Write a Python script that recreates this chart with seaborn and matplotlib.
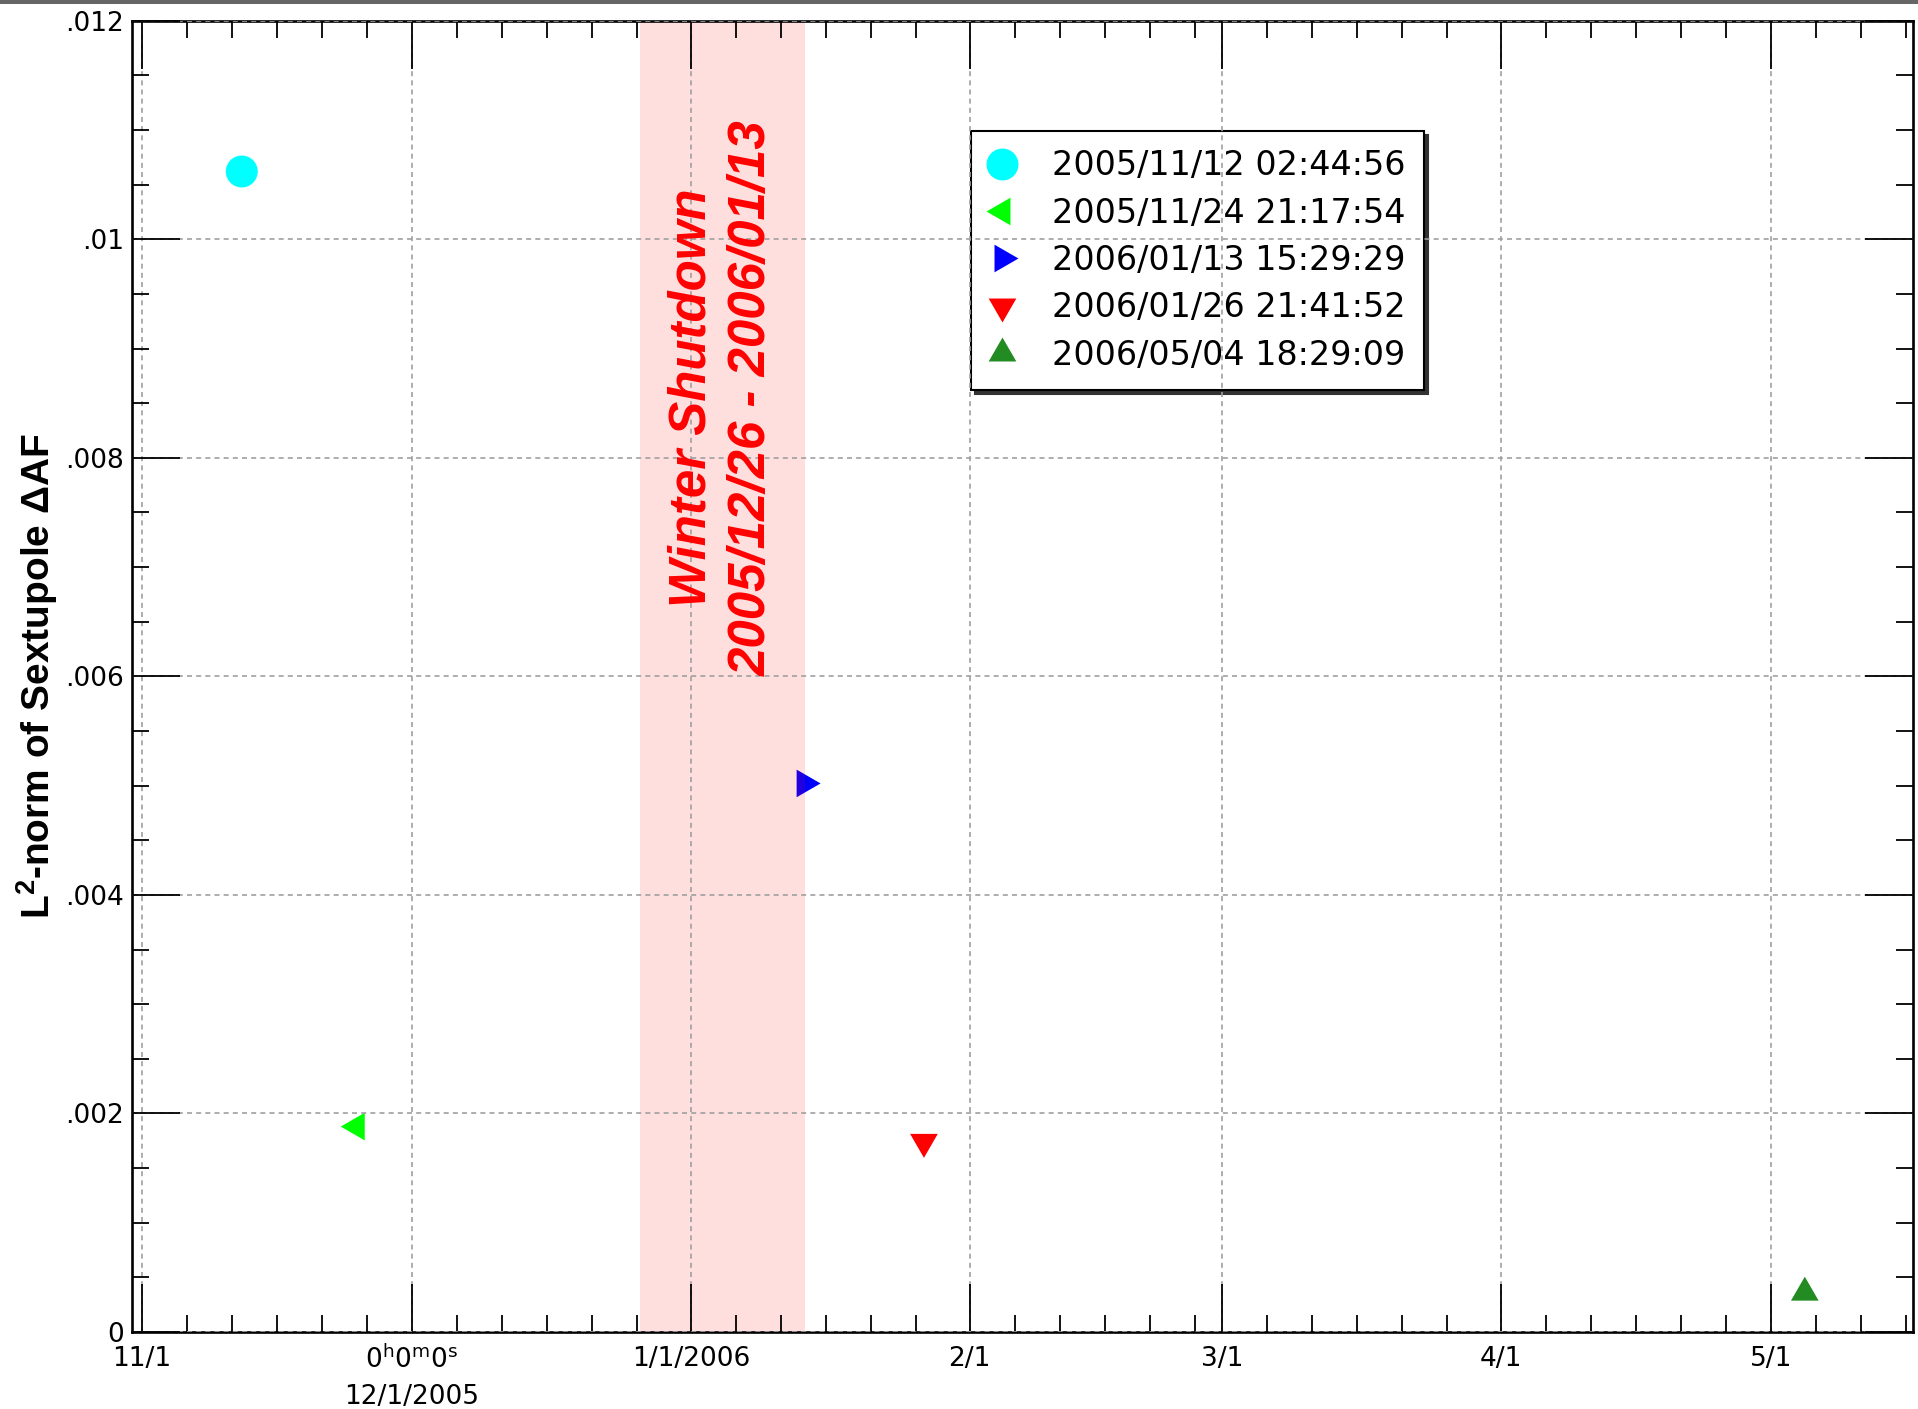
import numpy as np
import pandas as pd
import matplotlib
matplotlib.use("Agg")
import matplotlib.pyplot as plt
import matplotlib.dates as mdates
from matplotlib.lines import Line2D
from matplotlib.patches import Rectangle
from matplotlib.path import Path
from matplotlib.ticker import FixedLocator, MultipleLocator, FixedFormatter
import seaborn as sns

# ---------------- data ----------------
run_labels = ["2005/11/12 02:44:56", "2005/11/24 21:17:54", "2006/01/13 15:29:29",
              "2006/01/26 21:41:52", "2006/05/04 18:29:09"]
run_values = [0.01062, 0.00188, 0.00502, 0.00174, 0.00036]
run_colors = ["#00ffff", "#00ff00", "#0000ff", "#ff0000", "#228b22"]
run_markers = ["circle", "left", "right", "down", "up"]

x_tick_dates = ["2005-11-01", "2005-12-01", "2006-01-01", "2006-02-01",
                "2006-03-01", "2006-04-01", "2006-05-01"]
x_tick_labels = ["11/1", "0$^\\mathrm{h}$0$^\\mathrm{m}$0$^\\mathrm{s}$\n12/1/2005", "1/1/2006",
                 "2/1", "3/1", "4/1", "5/1"]
y_tick_values = [0, 0.002, 0.004, 0.006, 0.008, 0.010, 0.012]
y_tick_labels = ["0", ".002", ".004", ".006", ".008", ".01", ".012"]

x_range = ["2005-10-30 22:00", "2006-05-16 19:00"]
y_range = [0, 0.012]

shutdown_start = "2005-12-26 08:00"
shutdown_end = "2006-01-13 15:29:29"
shutdown_text = "Winter Shutdown\n2005/12/26 - 2006/01/13"
shutdown_text_y = 0.00855

ylabel_text = "L$^\\mathbf{2}$-norm of Sextupole ΔAF"

# ---------------- marker shapes (equilateral triangles centred on centroid) ----------------
def _tri(verts):
    v = np.array(verts + [verts[0]], dtype=float)
    return Path(v, closed=True)

s3 = np.sqrt(3) / 2
marker_shapes = {
    "circle": "o",
    "left": _tri([(-1, 0), (0.5, s3), (0.5, -s3)]),
    "right": _tri([(1, 0), (-0.5, s3), (-0.5, -s3)]),
    "down": _tri([(0, -1), (-s3, 0.5), (s3, 0.5)]),
    "up": _tri([(0, 1), (-s3, -0.5), (s3, -0.5)]),
}
marker_pt = 23

# ---------------- style ----------------
sns.set_style("white")
plt.rcParams["font.family"] = ["DejaVu Sans"]
plt.rcParams["mathtext.fontset"] = "custom"
plt.rcParams["mathtext.rm"] = "DejaVu Sans"
plt.rcParams["mathtext.bf"] = "Liberation Sans:bold"
plt.rcParams["mathtext.it"] = "DejaVu Sans:italic"
for key in ["text.color", "axes.labelcolor", "xtick.color", "ytick.color",
            "xtick.labelcolor", "ytick.labelcolor"]:
    plt.rcParams[key] = "black"

W, H = 1918, 1409
fig = plt.figure(figsize=(W / 100, H / 100), dpi=100)
fig.patch.set_facecolor("white")
ax = fig.add_axes([132 / W, 1 - 1332 / H, (1913 - 132) / W, (1332 - 20.7) / H])

df = pd.DataFrame({
    "time": pd.to_datetime(run_labels, format="%Y/%m/%d %H:%M:%S"),
    "value": run_values,
    "run": run_labels,
})

sns.scatterplot(
    data=df, x="time", y="value", hue="run", style="run",
    palette=dict(zip(run_labels, run_colors)),
    markers={l: marker_shapes[m] for l, m in zip(run_labels, run_markers)},
    s=marker_pt ** 2, linewidth=0, legend=False, ax=ax, zorder=1.5,
)

# winter shutdown band (semi-transparent, over the markers)
t0, t1 = pd.Timestamp(shutdown_start), pd.Timestamp(shutdown_end)
ax.axvspan(t0, t1, color="#ff0000", alpha=0.13, lw=0, zorder=1.6)
ax.text(t0 + (t1 - t0) / 2, shutdown_text_y, shutdown_text, rotation=90, ha="center", va="center",
        multialignment="center", color="#ff0000", fontsize=36.7,
        fontfamily="Liberation Sans", fontweight="bold", fontstyle="italic",
        linespacing=1.3, zorder=3)

# axes limits & ticks
ax.set_xlim(pd.Timestamp(x_range[0]), pd.Timestamp(x_range[1]))
ax.set_ylim(*y_range)
ax.xaxis.set_major_locator(FixedLocator(mdates.date2num(pd.to_datetime(x_tick_dates))))
ax.xaxis.set_major_formatter(FixedFormatter(x_tick_labels))
ax.xaxis.set_minor_locator(mdates.DayLocator(bymonthday=[6, 11, 16, 21, 26]))
ax.yaxis.set_major_locator(FixedLocator(y_tick_values))
ax.yaxis.set_major_formatter(FixedFormatter(y_tick_labels))
ax.yaxis.set_minor_locator(MultipleLocator(0.0005))

ax.tick_params(which="both", direction="in", top=True, right=True, bottom=True, left=True,
               color="black", labelcolor="black", width=1.3)
ax.tick_params(which="major", length=34.5, labelsize=19)
ax.tick_params(which="minor", length=12)
ax.tick_params(axis="x", which="major", pad=10)
ax.tick_params(axis="y", which="major", pad=6)
for lab in ax.get_xticklabels():
    if "\n" in lab.get_text():
        lab.set_linespacing(1.5)

for sp in ax.spines.values():
    sp.set_visible(True)
    sp.set_color("black")
    sp.set_linewidth(1.9)

ax.set_axisbelow(False)
ax.grid(True, which="major", color="#a0a0a0", linestyle=(0, (3, 2.5)), linewidth=1.2)
ax.set_xlabel("")
ax.set_ylabel(ylabel_text, fontsize=28, fontfamily="Liberation Sans", fontweight="bold",
              va="center", color="black")
ax.yaxis.set_label_coords((37 - 132) / (1913 - 132), 0.5)

# legend
handles = [Line2D([], [], linestyle="none", marker=marker_shapes[m], color=c,
                  markersize=marker_pt, markeredgewidth=0)
           for m, c in zip(run_markers, run_colors)]
ax_w = 1913 - 132
ax_h = 1332 - 20.7
lx0 = (971 - 132) / ax_w
ly1 = (1332 - 131) / ax_h
lw_ = (1424 - 971) / ax_w
leg = ax.legend(handles, run_labels, loc="upper left",
                bbox_to_anchor=(lx0, ly1 - 0.3, lw_, 0.3), mode="expand",
                borderaxespad=0, prop={"family": "DejaVu Sans", "size": 24},
                handlelength=0.76, handletextpad=1.12, borderpad=0.55, labelspacing=0.43,
                frameon=True, fancybox=False, framealpha=1, labelcolor="black",
                shadow={"ox": 3, "oy": -3, "facecolor": "#333333", "edgecolor": "#333333", "alpha": 1})
leg.get_frame().set_edgecolor("black")
leg.get_frame().set_linewidth(1.5)
leg.get_frame().set_facecolor("white")
leg.set_zorder(2)

# top window bar
fig.add_artist(Rectangle((0, 1 - 4 / H), 1, 4 / H, transform=fig.transFigure,
                         facecolor="#666666", edgecolor="none"))

fig.savefig("out.png", dpi=100)
